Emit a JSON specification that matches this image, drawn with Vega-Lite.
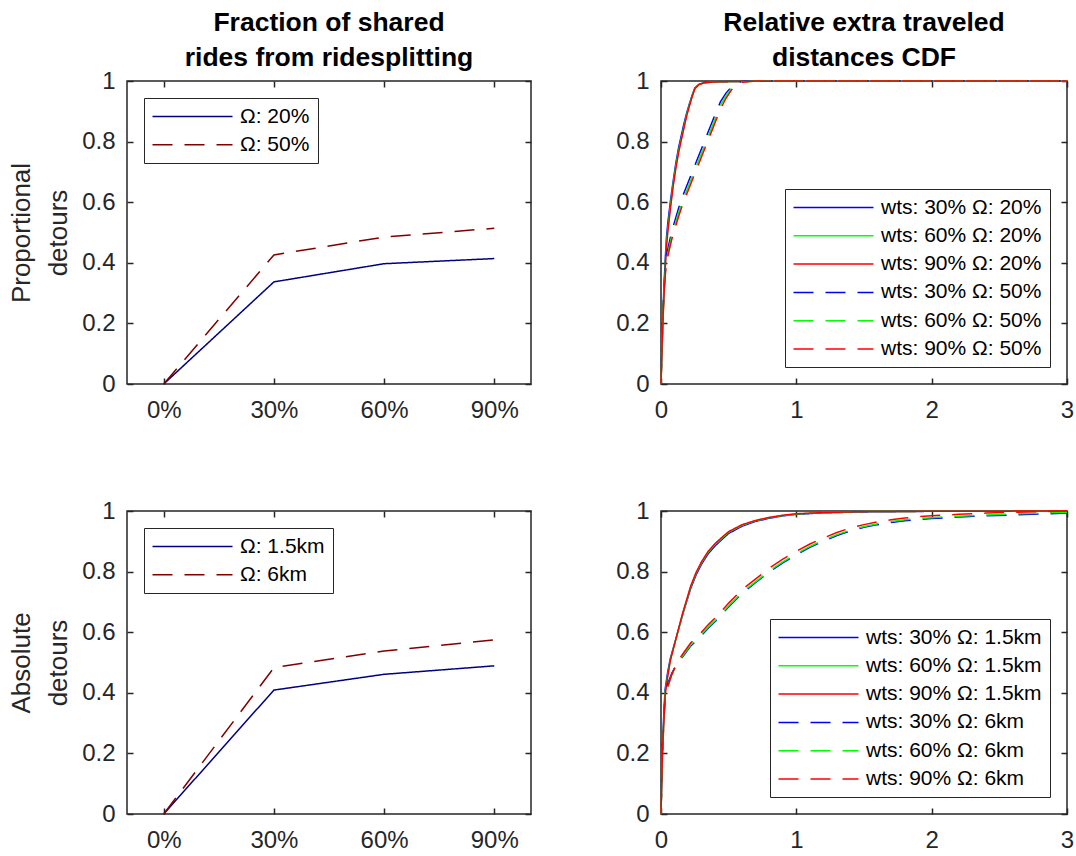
{
  "$schema": "https://vega.github.io/schema/vega-lite/v6.json",
  "padding": {"left": 7, "top": 8, "right": 0, "bottom": 0},
  "background": "white",
  "datasets": {
    "tl": [
      {"omega": "Ω: 20%", "wts": 0, "frac": 0},
      {"omega": "Ω: 20%", "wts": 30, "frac": 0.337},
      {"omega": "Ω: 20%", "wts": 60, "frac": 0.397},
      {"omega": "Ω: 20%", "wts": 90, "frac": 0.414},
      {"omega": "Ω: 50%", "wts": 0, "frac": 0},
      {"omega": "Ω: 50%", "wts": 30, "frac": 0.426},
      {"omega": "Ω: 50%", "wts": 60, "frac": 0.485},
      {"omega": "Ω: 50%", "wts": 90, "frac": 0.514}
    ],
    "bl": [
      {"omega": "Ω: 1.5km", "wts": 0, "frac": 0},
      {"omega": "Ω: 1.5km", "wts": 30, "frac": 0.409},
      {"omega": "Ω: 1.5km", "wts": 60, "frac": 0.461},
      {"omega": "Ω: 1.5km", "wts": 90, "frac": 0.489},
      {"omega": "Ω: 6km", "wts": 0, "frac": 0},
      {"omega": "Ω: 6km", "wts": 30, "frac": 0.483},
      {"omega": "Ω: 6km", "wts": 60, "frac": 0.538},
      {"omega": "Ω: 6km", "wts": 90, "frac": 0.575}
    ],
    "tr": [
      {"s": "wts: 30% Ω: 20%", "x": 0, "y": 0},
      {"s": "wts: 30% Ω: 20%", "x": 0.005, "y": 0.09},
      {"s": "wts: 30% Ω: 20%", "x": 0.012, "y": 0.2},
      {"s": "wts: 30% Ω: 20%", "x": 0.02, "y": 0.3},
      {"s": "wts: 30% Ω: 20%", "x": 0.03, "y": 0.4},
      {"s": "wts: 30% Ω: 20%", "x": 0.04, "y": 0.48},
      {"s": "wts: 30% Ω: 20%", "x": 0.05, "y": 0.53},
      {"s": "wts: 30% Ω: 20%", "x": 0.07, "y": 0.605},
      {"s": "wts: 30% Ω: 20%", "x": 0.09, "y": 0.67},
      {"s": "wts: 30% Ω: 20%", "x": 0.11, "y": 0.73},
      {"s": "wts: 30% Ω: 20%", "x": 0.13, "y": 0.78},
      {"s": "wts: 30% Ω: 20%", "x": 0.15, "y": 0.82},
      {"s": "wts: 30% Ω: 20%", "x": 0.17, "y": 0.86},
      {"s": "wts: 30% Ω: 20%", "x": 0.19, "y": 0.895},
      {"s": "wts: 30% Ω: 20%", "x": 0.21, "y": 0.925},
      {"s": "wts: 30% Ω: 20%", "x": 0.23, "y": 0.953},
      {"s": "wts: 30% Ω: 20%", "x": 0.25, "y": 0.977},
      {"s": "wts: 30% Ω: 20%", "x": 0.28, "y": 0.989},
      {"s": "wts: 30% Ω: 20%", "x": 0.32, "y": 0.995},
      {"s": "wts: 30% Ω: 20%", "x": 0.4, "y": 0.997},
      {"s": "wts: 30% Ω: 20%", "x": 0.6, "y": 0.999},
      {"s": "wts: 30% Ω: 20%", "x": 1, "y": 1},
      {"s": "wts: 30% Ω: 20%", "x": 3, "y": 1},
      {"s": "wts: 60% Ω: 20%", "x": 0, "y": 0},
      {"s": "wts: 60% Ω: 20%", "x": 0.005, "y": 0.08},
      {"s": "wts: 60% Ω: 20%", "x": 0.012, "y": 0.18},
      {"s": "wts: 60% Ω: 20%", "x": 0.02, "y": 0.28},
      {"s": "wts: 60% Ω: 20%", "x": 0.03, "y": 0.38},
      {"s": "wts: 60% Ω: 20%", "x": 0.04, "y": 0.46},
      {"s": "wts: 60% Ω: 20%", "x": 0.05, "y": 0.51},
      {"s": "wts: 60% Ω: 20%", "x": 0.07, "y": 0.59},
      {"s": "wts: 60% Ω: 20%", "x": 0.09, "y": 0.66},
      {"s": "wts: 60% Ω: 20%", "x": 0.11, "y": 0.72},
      {"s": "wts: 60% Ω: 20%", "x": 0.13, "y": 0.77},
      {"s": "wts: 60% Ω: 20%", "x": 0.15, "y": 0.81},
      {"s": "wts: 60% Ω: 20%", "x": 0.17, "y": 0.85},
      {"s": "wts: 60% Ω: 20%", "x": 0.19, "y": 0.89},
      {"s": "wts: 60% Ω: 20%", "x": 0.21, "y": 0.92},
      {"s": "wts: 60% Ω: 20%", "x": 0.23, "y": 0.95},
      {"s": "wts: 60% Ω: 20%", "x": 0.25, "y": 0.975},
      {"s": "wts: 60% Ω: 20%", "x": 0.28, "y": 0.988},
      {"s": "wts: 60% Ω: 20%", "x": 0.32, "y": 0.994},
      {"s": "wts: 60% Ω: 20%", "x": 0.4, "y": 0.997},
      {"s": "wts: 60% Ω: 20%", "x": 0.6, "y": 0.999},
      {"s": "wts: 60% Ω: 20%", "x": 1, "y": 1},
      {"s": "wts: 60% Ω: 20%", "x": 3, "y": 1},
      {"s": "wts: 90% Ω: 20%", "x": 0, "y": 0},
      {"s": "wts: 90% Ω: 20%", "x": 0.005, "y": 0.075},
      {"s": "wts: 90% Ω: 20%", "x": 0.012, "y": 0.17},
      {"s": "wts: 90% Ω: 20%", "x": 0.02, "y": 0.27},
      {"s": "wts: 90% Ω: 20%", "x": 0.03, "y": 0.37},
      {"s": "wts: 90% Ω: 20%", "x": 0.04, "y": 0.45},
      {"s": "wts: 90% Ω: 20%", "x": 0.05, "y": 0.5},
      {"s": "wts: 90% Ω: 20%", "x": 0.07, "y": 0.58},
      {"s": "wts: 90% Ω: 20%", "x": 0.09, "y": 0.652},
      {"s": "wts: 90% Ω: 20%", "x": 0.11, "y": 0.712},
      {"s": "wts: 90% Ω: 20%", "x": 0.13, "y": 0.763},
      {"s": "wts: 90% Ω: 20%", "x": 0.15, "y": 0.805},
      {"s": "wts: 90% Ω: 20%", "x": 0.17, "y": 0.845},
      {"s": "wts: 90% Ω: 20%", "x": 0.19, "y": 0.885},
      {"s": "wts: 90% Ω: 20%", "x": 0.21, "y": 0.917},
      {"s": "wts: 90% Ω: 20%", "x": 0.23, "y": 0.948},
      {"s": "wts: 90% Ω: 20%", "x": 0.25, "y": 0.974},
      {"s": "wts: 90% Ω: 20%", "x": 0.28, "y": 0.988},
      {"s": "wts: 90% Ω: 20%", "x": 0.32, "y": 0.994},
      {"s": "wts: 90% Ω: 20%", "x": 0.4, "y": 0.997},
      {"s": "wts: 90% Ω: 20%", "x": 0.6, "y": 0.999},
      {"s": "wts: 90% Ω: 20%", "x": 1, "y": 1},
      {"s": "wts: 90% Ω: 20%", "x": 3, "y": 1},
      {"s": "wts: 30% Ω: 50%", "x": 0, "y": 0},
      {"s": "wts: 30% Ω: 50%", "x": 0.005, "y": 0.11},
      {"s": "wts: 30% Ω: 50%", "x": 0.012, "y": 0.21},
      {"s": "wts: 30% Ω: 50%", "x": 0.02, "y": 0.3},
      {"s": "wts: 30% Ω: 50%", "x": 0.03, "y": 0.375},
      {"s": "wts: 30% Ω: 50%", "x": 0.04, "y": 0.425},
      {"s": "wts: 30% Ω: 50%", "x": 0.06, "y": 0.465},
      {"s": "wts: 30% Ω: 50%", "x": 0.08, "y": 0.505},
      {"s": "wts: 30% Ω: 50%", "x": 0.1, "y": 0.535},
      {"s": "wts: 30% Ω: 50%", "x": 0.13, "y": 0.58},
      {"s": "wts: 30% Ω: 50%", "x": 0.16, "y": 0.62},
      {"s": "wts: 30% Ω: 50%", "x": 0.2, "y": 0.665},
      {"s": "wts: 30% Ω: 50%", "x": 0.24, "y": 0.71},
      {"s": "wts: 30% Ω: 50%", "x": 0.28, "y": 0.755},
      {"s": "wts: 30% Ω: 50%", "x": 0.32, "y": 0.8},
      {"s": "wts: 30% Ω: 50%", "x": 0.36, "y": 0.845},
      {"s": "wts: 30% Ω: 50%", "x": 0.4, "y": 0.89},
      {"s": "wts: 30% Ω: 50%", "x": 0.44, "y": 0.932},
      {"s": "wts: 30% Ω: 50%", "x": 0.48, "y": 0.96},
      {"s": "wts: 30% Ω: 50%", "x": 0.52, "y": 0.98},
      {"s": "wts: 30% Ω: 50%", "x": 0.55, "y": 0.992},
      {"s": "wts: 30% Ω: 50%", "x": 0.6, "y": 0.998},
      {"s": "wts: 30% Ω: 50%", "x": 0.7, "y": 1},
      {"s": "wts: 30% Ω: 50%", "x": 3, "y": 1},
      {"s": "wts: 60% Ω: 50%", "x": 0, "y": 0},
      {"s": "wts: 60% Ω: 50%", "x": 0.005, "y": 0.1},
      {"s": "wts: 60% Ω: 50%", "x": 0.012, "y": 0.2},
      {"s": "wts: 60% Ω: 50%", "x": 0.02, "y": 0.29},
      {"s": "wts: 60% Ω: 50%", "x": 0.03, "y": 0.36},
      {"s": "wts: 60% Ω: 50%", "x": 0.04, "y": 0.41},
      {"s": "wts: 60% Ω: 50%", "x": 0.06, "y": 0.45},
      {"s": "wts: 60% Ω: 50%", "x": 0.08, "y": 0.49},
      {"s": "wts: 60% Ω: 50%", "x": 0.1, "y": 0.52},
      {"s": "wts: 60% Ω: 50%", "x": 0.13, "y": 0.565},
      {"s": "wts: 60% Ω: 50%", "x": 0.16, "y": 0.605},
      {"s": "wts: 60% Ω: 50%", "x": 0.2, "y": 0.65},
      {"s": "wts: 60% Ω: 50%", "x": 0.24, "y": 0.695},
      {"s": "wts: 60% Ω: 50%", "x": 0.28, "y": 0.74},
      {"s": "wts: 60% Ω: 50%", "x": 0.32, "y": 0.785},
      {"s": "wts: 60% Ω: 50%", "x": 0.36, "y": 0.83},
      {"s": "wts: 60% Ω: 50%", "x": 0.4, "y": 0.875},
      {"s": "wts: 60% Ω: 50%", "x": 0.44, "y": 0.92},
      {"s": "wts: 60% Ω: 50%", "x": 0.48, "y": 0.952},
      {"s": "wts: 60% Ω: 50%", "x": 0.52, "y": 0.975},
      {"s": "wts: 60% Ω: 50%", "x": 0.55, "y": 0.99},
      {"s": "wts: 60% Ω: 50%", "x": 0.6, "y": 0.997},
      {"s": "wts: 60% Ω: 50%", "x": 0.7, "y": 1},
      {"s": "wts: 60% Ω: 50%", "x": 3, "y": 1},
      {"s": "wts: 90% Ω: 50%", "x": 0, "y": 0},
      {"s": "wts: 90% Ω: 50%", "x": 0.005, "y": 0.09},
      {"s": "wts: 90% Ω: 50%", "x": 0.012, "y": 0.19},
      {"s": "wts: 90% Ω: 50%", "x": 0.02, "y": 0.28},
      {"s": "wts: 90% Ω: 50%", "x": 0.03, "y": 0.35},
      {"s": "wts: 90% Ω: 50%", "x": 0.04, "y": 0.4},
      {"s": "wts: 90% Ω: 50%", "x": 0.06, "y": 0.44},
      {"s": "wts: 90% Ω: 50%", "x": 0.08, "y": 0.478},
      {"s": "wts: 90% Ω: 50%", "x": 0.1, "y": 0.508},
      {"s": "wts: 90% Ω: 50%", "x": 0.13, "y": 0.553},
      {"s": "wts: 90% Ω: 50%", "x": 0.16, "y": 0.593},
      {"s": "wts: 90% Ω: 50%", "x": 0.2, "y": 0.638},
      {"s": "wts: 90% Ω: 50%", "x": 0.24, "y": 0.683},
      {"s": "wts: 90% Ω: 50%", "x": 0.28, "y": 0.728},
      {"s": "wts: 90% Ω: 50%", "x": 0.32, "y": 0.773},
      {"s": "wts: 90% Ω: 50%", "x": 0.36, "y": 0.818},
      {"s": "wts: 90% Ω: 50%", "x": 0.4, "y": 0.863},
      {"s": "wts: 90% Ω: 50%", "x": 0.44, "y": 0.908},
      {"s": "wts: 90% Ω: 50%", "x": 0.48, "y": 0.943},
      {"s": "wts: 90% Ω: 50%", "x": 0.52, "y": 0.97},
      {"s": "wts: 90% Ω: 50%", "x": 0.55, "y": 0.987},
      {"s": "wts: 90% Ω: 50%", "x": 0.6, "y": 0.996},
      {"s": "wts: 90% Ω: 50%", "x": 0.7, "y": 1},
      {"s": "wts: 90% Ω: 50%", "x": 3, "y": 1}
    ],
    "br": [
      {"s": "wts: 30% Ω: 1.5km", "x": 0, "y": 0},
      {"s": "wts: 30% Ω: 1.5km", "x": 0.005, "y": 0.11},
      {"s": "wts: 30% Ω: 1.5km", "x": 0.012, "y": 0.24},
      {"s": "wts: 30% Ω: 1.5km", "x": 0.02, "y": 0.32},
      {"s": "wts: 30% Ω: 1.5km", "x": 0.03, "y": 0.41},
      {"s": "wts: 30% Ω: 1.5km", "x": 0.05, "y": 0.47},
      {"s": "wts: 30% Ω: 1.5km", "x": 0.07, "y": 0.515},
      {"s": "wts: 30% Ω: 1.5km", "x": 0.1, "y": 0.562},
      {"s": "wts: 30% Ω: 1.5km", "x": 0.13, "y": 0.61},
      {"s": "wts: 30% Ω: 1.5km", "x": 0.16, "y": 0.658},
      {"s": "wts: 30% Ω: 1.5km", "x": 0.19, "y": 0.702},
      {"s": "wts: 30% Ω: 1.5km", "x": 0.22, "y": 0.745},
      {"s": "wts: 30% Ω: 1.5km", "x": 0.26, "y": 0.79},
      {"s": "wts: 30% Ω: 1.5km", "x": 0.3, "y": 0.825},
      {"s": "wts: 30% Ω: 1.5km", "x": 0.35, "y": 0.86},
      {"s": "wts: 30% Ω: 1.5km", "x": 0.4, "y": 0.885},
      {"s": "wts: 30% Ω: 1.5km", "x": 0.45, "y": 0.906},
      {"s": "wts: 30% Ω: 1.5km", "x": 0.5, "y": 0.926},
      {"s": "wts: 30% Ω: 1.5km", "x": 0.6, "y": 0.95},
      {"s": "wts: 30% Ω: 1.5km", "x": 0.7, "y": 0.966},
      {"s": "wts: 30% Ω: 1.5km", "x": 0.8, "y": 0.976},
      {"s": "wts: 30% Ω: 1.5km", "x": 0.9, "y": 0.984},
      {"s": "wts: 30% Ω: 1.5km", "x": 1.0, "y": 0.989},
      {"s": "wts: 30% Ω: 1.5km", "x": 1.2, "y": 0.994},
      {"s": "wts: 30% Ω: 1.5km", "x": 1.5, "y": 0.997},
      {"s": "wts: 30% Ω: 1.5km", "x": 2, "y": 0.999},
      {"s": "wts: 30% Ω: 1.5km", "x": 3, "y": 1},
      {"s": "wts: 60% Ω: 1.5km", "x": 0, "y": 0},
      {"s": "wts: 60% Ω: 1.5km", "x": 0.005, "y": 0.1},
      {"s": "wts: 60% Ω: 1.5km", "x": 0.012, "y": 0.22},
      {"s": "wts: 60% Ω: 1.5km", "x": 0.02, "y": 0.3},
      {"s": "wts: 60% Ω: 1.5km", "x": 0.03, "y": 0.4},
      {"s": "wts: 60% Ω: 1.5km", "x": 0.05, "y": 0.46},
      {"s": "wts: 60% Ω: 1.5km", "x": 0.07, "y": 0.51},
      {"s": "wts: 60% Ω: 1.5km", "x": 0.1, "y": 0.56},
      {"s": "wts: 60% Ω: 1.5km", "x": 0.13, "y": 0.61},
      {"s": "wts: 60% Ω: 1.5km", "x": 0.16, "y": 0.66},
      {"s": "wts: 60% Ω: 1.5km", "x": 0.19, "y": 0.705},
      {"s": "wts: 60% Ω: 1.5km", "x": 0.22, "y": 0.75},
      {"s": "wts: 60% Ω: 1.5km", "x": 0.26, "y": 0.795},
      {"s": "wts: 60% Ω: 1.5km", "x": 0.3, "y": 0.83},
      {"s": "wts: 60% Ω: 1.5km", "x": 0.35, "y": 0.865},
      {"s": "wts: 60% Ω: 1.5km", "x": 0.4, "y": 0.89},
      {"s": "wts: 60% Ω: 1.5km", "x": 0.45, "y": 0.91},
      {"s": "wts: 60% Ω: 1.5km", "x": 0.5, "y": 0.93},
      {"s": "wts: 60% Ω: 1.5km", "x": 0.6, "y": 0.953},
      {"s": "wts: 60% Ω: 1.5km", "x": 0.7, "y": 0.968},
      {"s": "wts: 60% Ω: 1.5km", "x": 0.8, "y": 0.978},
      {"s": "wts: 60% Ω: 1.5km", "x": 0.9, "y": 0.985},
      {"s": "wts: 60% Ω: 1.5km", "x": 1.0, "y": 0.99},
      {"s": "wts: 60% Ω: 1.5km", "x": 1.2, "y": 0.995},
      {"s": "wts: 60% Ω: 1.5km", "x": 1.5, "y": 0.998},
      {"s": "wts: 60% Ω: 1.5km", "x": 2, "y": 0.999},
      {"s": "wts: 60% Ω: 1.5km", "x": 3, "y": 1},
      {"s": "wts: 90% Ω: 1.5km", "x": 0, "y": 0},
      {"s": "wts: 90% Ω: 1.5km", "x": 0.005, "y": 0.095},
      {"s": "wts: 90% Ω: 1.5km", "x": 0.012, "y": 0.21},
      {"s": "wts: 90% Ω: 1.5km", "x": 0.02, "y": 0.29},
      {"s": "wts: 90% Ω: 1.5km", "x": 0.03, "y": 0.39},
      {"s": "wts: 90% Ω: 1.5km", "x": 0.05, "y": 0.455},
      {"s": "wts: 90% Ω: 1.5km", "x": 0.07, "y": 0.508},
      {"s": "wts: 90% Ω: 1.5km", "x": 0.1, "y": 0.56},
      {"s": "wts: 90% Ω: 1.5km", "x": 0.13, "y": 0.612},
      {"s": "wts: 90% Ω: 1.5km", "x": 0.16, "y": 0.663},
      {"s": "wts: 90% Ω: 1.5km", "x": 0.19, "y": 0.708},
      {"s": "wts: 90% Ω: 1.5km", "x": 0.22, "y": 0.753},
      {"s": "wts: 90% Ω: 1.5km", "x": 0.26, "y": 0.798},
      {"s": "wts: 90% Ω: 1.5km", "x": 0.3, "y": 0.833},
      {"s": "wts: 90% Ω: 1.5km", "x": 0.35, "y": 0.868},
      {"s": "wts: 90% Ω: 1.5km", "x": 0.4, "y": 0.893},
      {"s": "wts: 90% Ω: 1.5km", "x": 0.45, "y": 0.913},
      {"s": "wts: 90% Ω: 1.5km", "x": 0.5, "y": 0.932},
      {"s": "wts: 90% Ω: 1.5km", "x": 0.6, "y": 0.955},
      {"s": "wts: 90% Ω: 1.5km", "x": 0.7, "y": 0.969},
      {"s": "wts: 90% Ω: 1.5km", "x": 0.8, "y": 0.979},
      {"s": "wts: 90% Ω: 1.5km", "x": 0.9, "y": 0.986},
      {"s": "wts: 90% Ω: 1.5km", "x": 1.0, "y": 0.991},
      {"s": "wts: 90% Ω: 1.5km", "x": 1.2, "y": 0.995},
      {"s": "wts: 90% Ω: 1.5km", "x": 1.5, "y": 0.998},
      {"s": "wts: 90% Ω: 1.5km", "x": 2, "y": 0.999},
      {"s": "wts: 90% Ω: 1.5km", "x": 3, "y": 1},
      {"s": "wts: 30% Ω: 6km", "x": 0, "y": 0},
      {"s": "wts: 30% Ω: 6km", "x": 0.005, "y": 0.11},
      {"s": "wts: 30% Ω: 6km", "x": 0.012, "y": 0.23},
      {"s": "wts: 30% Ω: 6km", "x": 0.02, "y": 0.31},
      {"s": "wts: 30% Ω: 6km", "x": 0.03, "y": 0.39},
      {"s": "wts: 30% Ω: 6km", "x": 0.05, "y": 0.43},
      {"s": "wts: 30% Ω: 6km", "x": 0.08, "y": 0.465},
      {"s": "wts: 30% Ω: 6km", "x": 0.12, "y": 0.497},
      {"s": "wts: 30% Ω: 6km", "x": 0.17, "y": 0.525},
      {"s": "wts: 30% Ω: 6km", "x": 0.22, "y": 0.555},
      {"s": "wts: 30% Ω: 6km", "x": 0.28, "y": 0.58},
      {"s": "wts: 30% Ω: 6km", "x": 0.35, "y": 0.614},
      {"s": "wts: 30% Ω: 6km", "x": 0.42, "y": 0.644},
      {"s": "wts: 30% Ω: 6km", "x": 0.5, "y": 0.684},
      {"s": "wts: 30% Ω: 6km", "x": 0.6, "y": 0.729},
      {"s": "wts: 30% Ω: 6km", "x": 0.7, "y": 0.764},
      {"s": "wts: 30% Ω: 6km", "x": 0.8, "y": 0.799},
      {"s": "wts: 30% Ω: 6km", "x": 0.9, "y": 0.829},
      {"s": "wts: 30% Ω: 6km", "x": 1.0, "y": 0.856},
      {"s": "wts: 30% Ω: 6km", "x": 1.1, "y": 0.88},
      {"s": "wts: 30% Ω: 6km", "x": 1.2, "y": 0.901},
      {"s": "wts: 30% Ω: 6km", "x": 1.3, "y": 0.919},
      {"s": "wts: 30% Ω: 6km", "x": 1.4, "y": 0.934},
      {"s": "wts: 30% Ω: 6km", "x": 1.5, "y": 0.946},
      {"s": "wts: 30% Ω: 6km", "x": 1.6, "y": 0.955},
      {"s": "wts: 30% Ω: 6km", "x": 1.7, "y": 0.962},
      {"s": "wts: 30% Ω: 6km", "x": 1.8, "y": 0.968},
      {"s": "wts: 30% Ω: 6km", "x": 1.9, "y": 0.972},
      {"s": "wts: 30% Ω: 6km", "x": 2.0, "y": 0.975},
      {"s": "wts: 30% Ω: 6km", "x": 2.2, "y": 0.98},
      {"s": "wts: 30% Ω: 6km", "x": 2.4, "y": 0.984},
      {"s": "wts: 30% Ω: 6km", "x": 2.6, "y": 0.987},
      {"s": "wts: 30% Ω: 6km", "x": 2.8, "y": 0.99},
      {"s": "wts: 30% Ω: 6km", "x": 3.0, "y": 0.993},
      {"s": "wts: 60% Ω: 6km", "x": 0, "y": 0},
      {"s": "wts: 60% Ω: 6km", "x": 0.005, "y": 0.1},
      {"s": "wts: 60% Ω: 6km", "x": 0.012, "y": 0.22},
      {"s": "wts: 60% Ω: 6km", "x": 0.02, "y": 0.3},
      {"s": "wts: 60% Ω: 6km", "x": 0.03, "y": 0.38},
      {"s": "wts: 60% Ω: 6km", "x": 0.05, "y": 0.42},
      {"s": "wts: 60% Ω: 6km", "x": 0.08, "y": 0.46},
      {"s": "wts: 60% Ω: 6km", "x": 0.12, "y": 0.498},
      {"s": "wts: 60% Ω: 6km", "x": 0.17, "y": 0.528},
      {"s": "wts: 60% Ω: 6km", "x": 0.22, "y": 0.558},
      {"s": "wts: 60% Ω: 6km", "x": 0.28, "y": 0.583},
      {"s": "wts: 60% Ω: 6km", "x": 0.35, "y": 0.617},
      {"s": "wts: 60% Ω: 6km", "x": 0.42, "y": 0.647},
      {"s": "wts: 60% Ω: 6km", "x": 0.5, "y": 0.687},
      {"s": "wts: 60% Ω: 6km", "x": 0.6, "y": 0.732},
      {"s": "wts: 60% Ω: 6km", "x": 0.7, "y": 0.767},
      {"s": "wts: 60% Ω: 6km", "x": 0.8, "y": 0.802},
      {"s": "wts: 60% Ω: 6km", "x": 0.9, "y": 0.832},
      {"s": "wts: 60% Ω: 6km", "x": 1.0, "y": 0.859},
      {"s": "wts: 60% Ω: 6km", "x": 1.1, "y": 0.883},
      {"s": "wts: 60% Ω: 6km", "x": 1.2, "y": 0.904},
      {"s": "wts: 60% Ω: 6km", "x": 1.3, "y": 0.922},
      {"s": "wts: 60% Ω: 6km", "x": 1.4, "y": 0.937},
      {"s": "wts: 60% Ω: 6km", "x": 1.5, "y": 0.949},
      {"s": "wts: 60% Ω: 6km", "x": 1.6, "y": 0.958},
      {"s": "wts: 60% Ω: 6km", "x": 1.7, "y": 0.965},
      {"s": "wts: 60% Ω: 6km", "x": 1.8, "y": 0.971},
      {"s": "wts: 60% Ω: 6km", "x": 1.9, "y": 0.975},
      {"s": "wts: 60% Ω: 6km", "x": 2.0, "y": 0.978},
      {"s": "wts: 60% Ω: 6km", "x": 2.2, "y": 0.983},
      {"s": "wts: 60% Ω: 6km", "x": 2.4, "y": 0.987},
      {"s": "wts: 60% Ω: 6km", "x": 2.6, "y": 0.99},
      {"s": "wts: 60% Ω: 6km", "x": 2.8, "y": 0.993},
      {"s": "wts: 60% Ω: 6km", "x": 3.0, "y": 0.996},
      {"s": "wts: 90% Ω: 6km", "x": 0, "y": 0},
      {"s": "wts: 90% Ω: 6km", "x": 0.005, "y": 0.1},
      {"s": "wts: 90% Ω: 6km", "x": 0.012, "y": 0.22},
      {"s": "wts: 90% Ω: 6km", "x": 0.02, "y": 0.3},
      {"s": "wts: 90% Ω: 6km", "x": 0.03, "y": 0.38},
      {"s": "wts: 90% Ω: 6km", "x": 0.05, "y": 0.42},
      {"s": "wts: 90% Ω: 6km", "x": 0.08, "y": 0.46},
      {"s": "wts: 90% Ω: 6km", "x": 0.12, "y": 0.502},
      {"s": "wts: 90% Ω: 6km", "x": 0.17, "y": 0.534},
      {"s": "wts: 90% Ω: 6km", "x": 0.22, "y": 0.565},
      {"s": "wts: 90% Ω: 6km", "x": 0.28, "y": 0.59},
      {"s": "wts: 90% Ω: 6km", "x": 0.35, "y": 0.625},
      {"s": "wts: 90% Ω: 6km", "x": 0.42, "y": 0.656},
      {"s": "wts: 90% Ω: 6km", "x": 0.5, "y": 0.696},
      {"s": "wts: 90% Ω: 6km", "x": 0.6, "y": 0.741},
      {"s": "wts: 90% Ω: 6km", "x": 0.7, "y": 0.776},
      {"s": "wts: 90% Ω: 6km", "x": 0.8, "y": 0.811},
      {"s": "wts: 90% Ω: 6km", "x": 0.9, "y": 0.841},
      {"s": "wts: 90% Ω: 6km", "x": 1.0, "y": 0.867},
      {"s": "wts: 90% Ω: 6km", "x": 1.1, "y": 0.891},
      {"s": "wts: 90% Ω: 6km", "x": 1.2, "y": 0.911},
      {"s": "wts: 90% Ω: 6km", "x": 1.3, "y": 0.929},
      {"s": "wts: 90% Ω: 6km", "x": 1.4, "y": 0.944},
      {"s": "wts: 90% Ω: 6km", "x": 1.5, "y": 0.955},
      {"s": "wts: 90% Ω: 6km", "x": 1.6, "y": 0.964},
      {"s": "wts: 90% Ω: 6km", "x": 1.7, "y": 0.971},
      {"s": "wts: 90% Ω: 6km", "x": 1.8, "y": 0.977},
      {"s": "wts: 90% Ω: 6km", "x": 1.9, "y": 0.981},
      {"s": "wts: 90% Ω: 6km", "x": 2.0, "y": 0.984},
      {"s": "wts: 90% Ω: 6km", "x": 2.2, "y": 0.989},
      {"s": "wts: 90% Ω: 6km", "x": 2.4, "y": 0.993},
      {"s": "wts: 90% Ω: 6km", "x": 2.6, "y": 0.996},
      {"s": "wts: 90% Ω: 6km", "x": 2.8, "y": 0.998},
      {"s": "wts: 90% Ω: 6km", "x": 3.0, "y": 1}
    ]
  },
  "concat": [
    {
      "width": 404, "height": 303,
      "title": {"text": ["Fraction of shared", "rides from ridesplitting"]},
      "data": {"name": "tl"},
      "layer": [
        {
          "mark": {"type": "line", "strokeWidth": 1.5},
          "encoding": {
            "x": {"field": "wts", "type": "quantitative", "scale": {"domain": [-10, 100]},
                  "axis": {"orient": "bottom", "values": [0, 30, 60, 90], "labelExpr": "datum.value + '%'", "title": null}},
            "y": {"field": "frac", "type": "quantitative", "scale": {"domain": [0, 1]},
                  "axis": {"orient": "left", "values": [0, 0.2, 0.4, 0.6, 0.8, 1], "format": "~g", "title": ["Proportional", "detours"]}},
            "color": {"field": "omega", "type": "nominal", "scale": {"domain": ["Ω: 20%", "Ω: 50%"], "range": ["#000080", "#800000"]},
                      "legend": {"title": null, "orient": "top-left"}},
            "strokeDash": {"field": "omega", "type": "nominal", "scale": {"domain": ["Ω: 20%", "Ω: 50%"], "range": [[1, 0], [20, 12]]},
                      "legend": {"title": null, "orient": "top-left"}}
          }
        },
        {
          "mark": {"type": "point", "opacity": 0},
          "encoding": {
            "x": {"field": "wts", "type": "quantitative", "axis": {"orient": "top", "values": [0, 30, 60, 90], "labels": false, "title": null}},
            "y": {"field": "frac", "type": "quantitative", "axis": {"orient": "right", "values": [0, 0.2, 0.4, 0.6, 0.8, 1], "labels": false, "title": null}}
          }
        }
      ],
      "resolve": {"axis": {"x": "independent", "y": "independent"}}
    },
    {
      "width": 406, "height": 303,
      "title": {"text": ["Relative extra traveled", "distances CDF"]},
      "data": {"name": "tr"},
      "layer": [
        {
          "mark": {"type": "line", "strokeWidth": 1.5},
          "encoding": {
            "x": {"field": "x", "type": "quantitative", "scale": {"domain": [0, 3]},
                  "axis": {"orient": "bottom", "values": [0, 1, 2, 3], "title": null}},
            "y": {"field": "y", "type": "quantitative", "scale": {"domain": [0, 1]},
                  "axis": {"orient": "left", "values": [0, 0.2, 0.4, 0.6, 0.8, 1], "format": "~g", "title": null}},
            "color": {"field": "s", "type": "nominal",
                      "scale": {"domain": ["wts: 30% Ω: 20%", "wts: 60% Ω: 20%", "wts: 90% Ω: 20%", "wts: 30% Ω: 50%", "wts: 60% Ω: 50%", "wts: 90% Ω: 50%"],
                                "range": ["#0000ff", "#00ff00", "#ff0000", "#0000ff", "#00ff00", "#ff0000"]},
                      "legend": {"title": null, "orient": "bottom-right"}},
            "strokeDash": {"field": "s", "type": "nominal",
                      "scale": {"domain": ["wts: 30% Ω: 20%", "wts: 60% Ω: 20%", "wts: 90% Ω: 20%", "wts: 30% Ω: 50%", "wts: 60% Ω: 50%", "wts: 90% Ω: 50%"],
                                "range": [[1, 0], [1, 0], [1, 0], [20, 12], [20, 12], [20, 12]]},
                      "legend": {"title": null, "orient": "bottom-right"}}
          }
        },
        {
          "mark": {"type": "point", "opacity": 0},
          "encoding": {
            "x": {"field": "x", "type": "quantitative", "axis": {"orient": "top", "values": [0, 1, 2, 3], "labels": false, "title": null}},
            "y": {"field": "y", "type": "quantitative", "axis": {"orient": "right", "values": [0, 0.2, 0.4, 0.6, 0.8, 1], "labels": false, "title": null}}
          }
        }
      ],
      "resolve": {"axis": {"x": "independent", "y": "independent"}}
    },
    {
      "width": 404, "height": 303,
      "data": {"name": "bl"},
      "layer": [
        {
          "mark": {"type": "line", "strokeWidth": 1.5},
          "encoding": {
            "x": {"field": "wts", "type": "quantitative", "scale": {"domain": [-10, 100]},
                  "axis": {"orient": "bottom", "values": [0, 30, 60, 90], "labelExpr": "datum.value + '%'", "title": null}},
            "y": {"field": "frac", "type": "quantitative", "scale": {"domain": [0, 1]},
                  "axis": {"orient": "left", "values": [0, 0.2, 0.4, 0.6, 0.8, 1], "format": "~g", "title": ["Absolute", "detours"]}},
            "color": {"field": "omega", "type": "nominal", "scale": {"domain": ["Ω: 1.5km", "Ω: 6km"], "range": ["#000080", "#800000"]},
                      "legend": {"title": null, "orient": "top-left"}},
            "strokeDash": {"field": "omega", "type": "nominal", "scale": {"domain": ["Ω: 1.5km", "Ω: 6km"], "range": [[1, 0], [20, 12]]},
                      "legend": {"title": null, "orient": "top-left"}}
          }
        },
        {
          "mark": {"type": "point", "opacity": 0},
          "encoding": {
            "x": {"field": "wts", "type": "quantitative", "axis": {"orient": "top", "values": [0, 30, 60, 90], "labels": false, "title": null}},
            "y": {"field": "frac", "type": "quantitative", "axis": {"orient": "right", "values": [0, 0.2, 0.4, 0.6, 0.8, 1], "labels": false, "title": null}}
          }
        }
      ],
      "resolve": {"axis": {"x": "independent", "y": "independent"}}
    },
    {
      "width": 406, "height": 303,
      "data": {"name": "br"},
      "layer": [
        {
          "mark": {"type": "line", "strokeWidth": 1.5},
          "encoding": {
            "x": {"field": "x", "type": "quantitative", "scale": {"domain": [0, 3]},
                  "axis": {"orient": "bottom", "values": [0, 1, 2, 3], "title": null}},
            "y": {"field": "y", "type": "quantitative", "scale": {"domain": [0, 1]},
                  "axis": {"orient": "left", "values": [0, 0.2, 0.4, 0.6, 0.8, 1], "format": "~g", "title": null}},
            "color": {"field": "s", "type": "nominal",
                      "scale": {"domain": ["wts: 30% Ω: 1.5km", "wts: 60% Ω: 1.5km", "wts: 90% Ω: 1.5km", "wts: 30% Ω: 6km", "wts: 60% Ω: 6km", "wts: 90% Ω: 6km"],
                                "range": ["#0000ff", "#00ff00", "#ff0000", "#0000ff", "#00ff00", "#ff0000"]},
                      "legend": {"title": null, "orient": "bottom-right"}},
            "strokeDash": {"field": "s", "type": "nominal",
                      "scale": {"domain": ["wts: 30% Ω: 1.5km", "wts: 60% Ω: 1.5km", "wts: 90% Ω: 1.5km", "wts: 30% Ω: 6km", "wts: 60% Ω: 6km", "wts: 90% Ω: 6km"],
                                "range": [[1, 0], [1, 0], [1, 0], [20, 12], [20, 12], [20, 12]]},
                      "legend": {"title": null, "orient": "bottom-right"}}
          }
        },
        {
          "mark": {"type": "point", "opacity": 0},
          "encoding": {
            "x": {"field": "x", "type": "quantitative", "axis": {"orient": "top", "values": [0, 1, 2, 3], "labels": false, "title": null}},
            "y": {"field": "y", "type": "quantitative", "axis": {"orient": "right", "values": [0, 0.2, 0.4, 0.6, 0.8, 1], "labels": false, "title": null}}
          }
        }
      ],
      "resolve": {"axis": {"x": "independent", "y": "independent"}}
    }
  ],
  "columns": 2,
  "spacing": {"row": 127, "column": 130},
  "bounds": "flush",
  "resolve": {"scale": {"color": "independent", "strokeDash": "independent", "x": "independent", "y": "independent"}, "legend": {"color": "independent", "strokeDash": "independent"}},
  "config": {
    "font": "Liberation Sans",
    "view": {"stroke": "#262626", "strokeWidth": 1.5},
    "axis": {
      "grid": false, "domain": false, "tickSize": -6, "tickColor": "#262626", "tickWidth": 1.5,
      "labelFont": "Liberation Sans", "labelFontSize": 24, "labelColor": "#262626", "labelFlush": false, "labelOverlap": false,
      "titleFont": "Liberation Sans", "titleFontSize": 26, "titleFontWeight": "normal", "titleColor": "#262626", "titleLineHeight": 37, "titlePadding": 10
    },
    "axisX": {"labelPadding": 20},
    "axisY": {"labelPadding": 18},
    "title": {"font": "Liberation Sans", "fontSize": 26.5, "fontWeight": "bold", "color": "black", "lineHeight": 35, "offset": -2, "anchor": "middle"},
    "legend": {
      "fillColor": "white", "strokeColor": "#262626", "strokeWidth": 1, "padding": 8, "offset": 17,
      "labelFont": "Liberation Sans", "labelFontSize": 21, "labelColor": "black", "labelOffset": 77, "labelLimit": 400, "rowPadding": 6.3,
      "symbolType": "M0,0H80", "symbolSize": 4, "symbolOffset": -10, "symbolStrokeWidth": 1.5
    }
  }
}
